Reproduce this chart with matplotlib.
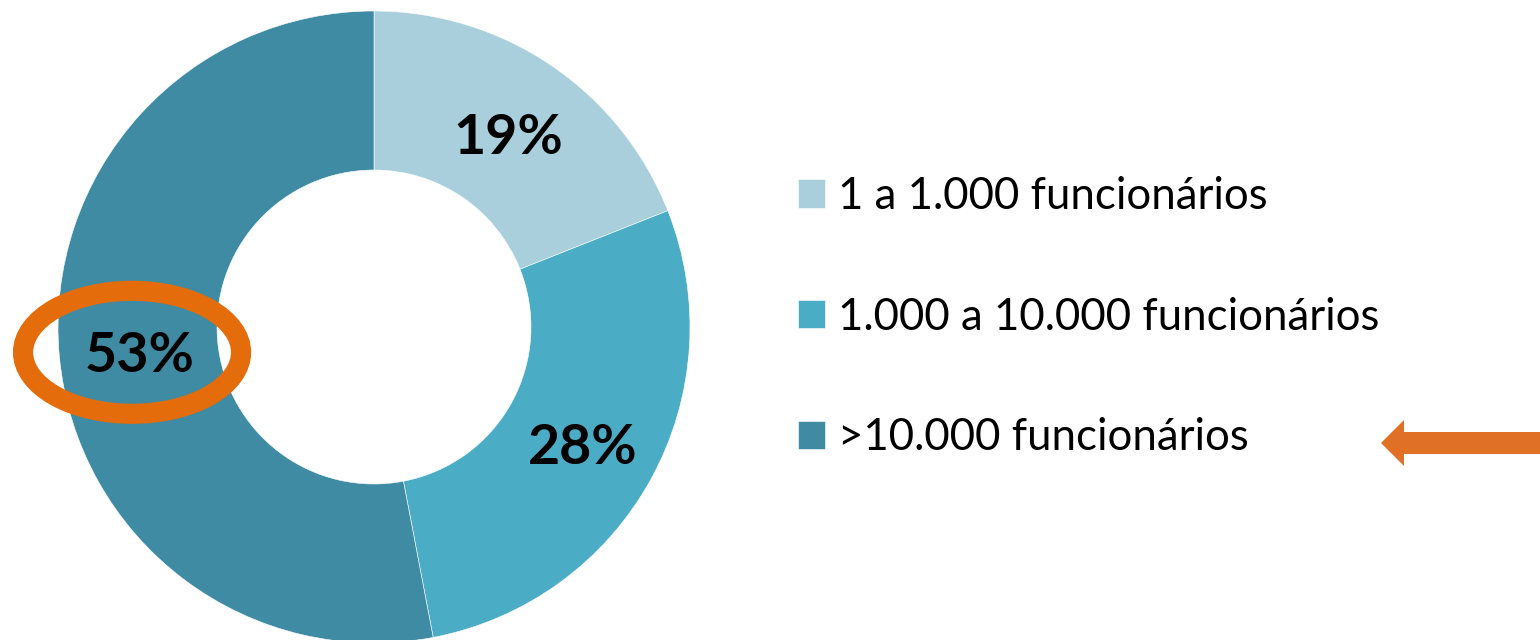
import matplotlib
matplotlib.use('Agg')
import matplotlib.pyplot as plt
from matplotlib.patches import Ellipse, FancyArrow

plt.rcParams['font.family'] = ['Lato', 'DejaVu Sans']

categories = ['1 a 1.000 funcionários', '1.000 a 10.000 funcionários', '>10.000 funcionários']
shares = [19, 28, 53]
colors = ['#A9CFDD', '#4BACC6', '#3E8BA3']
highlight = '>10.000 funcionários'

fig = plt.figure(figsize=(15.4, 6.4), dpi=100, facecolor='white')
ax = fig.add_axes([0, 0, 1, 1])

# everything in pixel units, y pointing up
wedges, texts, autotexts = ax.pie(
    shares, colors=colors, startangle=90, counterclock=False,
    center=(374, 313), radius=316, frame=True,
    wedgeprops=dict(width=159, edgecolor='white', linewidth=0.4),
    autopct=lambda p: f'{p:.0f}%', pctdistance=0.75,
    textprops=dict(fontsize=40, fontweight='bold', color='black'))

for t in autotexts:
    x, y = t.get_position()
    t.set_position((x + 1, y - 7))

ax.set_xlim(0, 1540)
ax.set_ylim(0, 640)
ax.set_aspect('equal')
ax.axis('off')

# orange ring around the highlighted label
i = categories.index(highlight)
x, y = autotexts[i].get_position()
ax.add_patch(Ellipse((x - 7, y + 4), 218, 123, fill=False,
                     edgecolor='#E46C0A', linewidth=14.5))

leg = ax.legend(wedges, categories, loc='upper left',
                bbox_to_anchor=(798 / 1540, 1 - 176 / 640),
                frameon=False, fontsize=31.5, handlelength=0.62,
                handleheight=0.62, handletextpad=0.3, labelspacing=1.82,
                borderpad=0, borderaxespad=0)

# arrow pointing at the highlighted legend entry
ax.add_patch(FancyArrow(1545, 197, -164, 0, width=22, head_width=46,
                        head_length=23, length_includes_head=True,
                        color='#E07026', linewidth=0))

fig.savefig('out.png', dpi=100, facecolor='white')
